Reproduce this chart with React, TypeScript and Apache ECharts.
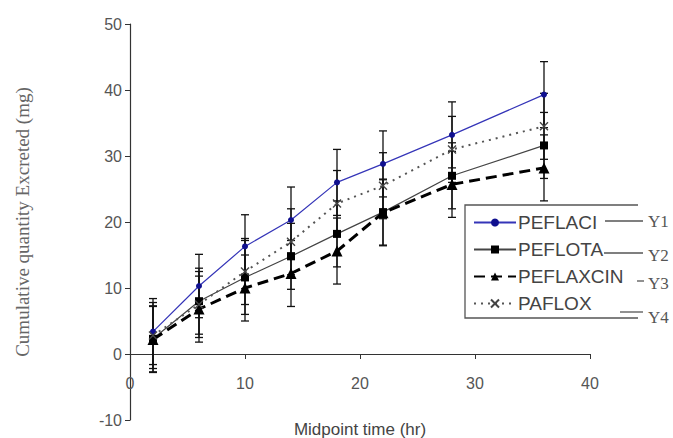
import React, { useEffect, useRef } from "react";
import * as echarts from "echarts";

const times = [2, 6, 10, 14, 18, 22, 28, 36];
const peflaci = [3.4, 10.3, 16.3, 20.3, 26.0, 28.8, 33.2, 39.3];
const peflota = [2.3, 8.0, 11.6, 14.8, 18.2, 21.5, 27.0, 31.6];
const peflaxcin = [2.2, 6.8, 10.0, 12.2, 15.6, 21.4, 25.7, 28.2];
const paflox = [2.8, 7.5, 12.5, 17.0, 22.8, 25.5, 31.0, 34.5];
const peflaciSd = [5, 4.8, 4.8, 5, 5, 5, 5, 5];
const peflotaSd = [5, 5, 5.6, 5, 5, 5, 5, 5];
const peflaxcinSd = [5, 5, 5, 5, 5, 5, 5, 5];
const pafloxSd = [5, 5, 5, 5, 5, 5, 5, 5];
const yTicks = [-10, 0, 10, 20, 30, 40, 50];
const xTicks = [0, 10, 20, 30, 40];

const pairs = (ys: number[]) => times.map((t, i) => [t, ys[i]]);
const bars = (ys: number[], sd: number[]) =>
  times.map((t, i) => [t, ys[i] - sd[i], ys[i] + sd[i]]);

const renderErr = (params: any, api: any) => {
  const x = api.value(0);
  const lo = api.coord([x, api.value(1)]);
  const hi = api.coord([x, api.value(2)]);
  const st = { stroke: "#111", lineWidth: 1.3 };
  const w = 4;
  return {
    type: "group",
    children: [
      { type: "line", shape: { x1: hi[0], y1: hi[1], x2: lo[0], y2: lo[1] }, style: st },
      { type: "line", shape: { x1: hi[0] - w, y1: hi[1], x2: hi[0] + w, y2: hi[1] }, style: st },
      { type: "line", shape: { x1: lo[0] - w, y1: lo[1], x2: lo[0] + w, y2: lo[1] }, style: st },
    ],
  };
};

const errSeries = (name: string, ys: number[], sd: number[]) => ({
  type: "custom",
  name,
  renderItem: renderErr,
  data: bars(ys, sd),
  encode: { x: 0, y: [1, 2] },
  z: 1,
  silent: true,
});

export default function App() {
  const ref = useRef<HTMLDivElement>(null);
  useEffect(() => {
    if (!ref.current) return;
    const chart = echarts.init(ref.current, null, { renderer: "svg" });
    const sans = "Liberation Sans, Arial, sans-serif";
    const serif = "Liberation Serif, Times New Roman, serif";
    chart.setOption({
      animation: false,
      backgroundColor: "#ffffff",
      grid: { left: 130, right: 83, top: 24, bottom: 18, outerBoundsMode: "none", containLabel: false },
      xAxis: {
        type: "value",
        min: 0,
        max: 40,
        interval: 10,
        position: "bottom",
        offset: -66,
        name: "Midpoint time (hr)",
        nameLocation: "middle",
        nameGap: 67,
        nameTextStyle: { fontFamily: sans, fontSize: 17, color: "#444" },
        axisLine: { onZero: false, lineStyle: { color: "#333", width: 1.2 } },
        axisTick: { show: true, length: 5, lineStyle: { color: "#333" } },
        axisLabel: {
          margin: 21,
          fontFamily: sans,
          fontSize: 16,
          color: "#555",
          formatter: (v: number) => (xTicks.includes(v) ? String(v) : ""),
        },
        splitLine: { show: false },
      },
      yAxis: {
        type: "value",
        min: -10,
        max: 50,
        interval: 10,
        name: "Cumulative quantity Excreted (mg)",
        nameLocation: "middle",
        nameGap: 98,
        nameTextStyle: { fontFamily: serif, fontSize: 19, color: "#666" },
        axisLine: { show: true, lineStyle: { color: "#333", width: 1.2 } },
        axisTick: { show: true, length: 5, lineStyle: { color: "#333" } },
        axisLabel: {
          margin: 8,
          fontFamily: sans,
          fontSize: 16,
          color: "#555",
          formatter: (v: number) => (yTicks.includes(v) ? String(v) : ""),
        },
        splitLine: { show: false },
      },
      legend: {
        data: ["PEFLACI", "PEFLOTA", "PEFLAXCIN", "PAFLOX"],
        orient: "vertical",
        left: 473,
        top: 213,
        itemWidth: 42,
        itemHeight: 10,
        itemGap: 8,
        padding: 0,
        textStyle: { fontFamily: sans, fontSize: 19, color: "#444", padding: [0, 0, 0, -3] },
      },
      graphic: [
        {
          type: "polyline",
          shape: { points: [[638, 205], [465, 205], [465, 318], [638, 318]] },
          style: { stroke: "#555", lineWidth: 1.3, fill: "none" },
          z: 10,
        },
        { type: "line", shape: { x1: 605, y1: 221, x2: 643, y2: 221 }, style: { stroke: "#555", lineWidth: 1.3 }, z: 10 },
        { type: "line", shape: { x1: 604, y1: 253, x2: 643, y2: 253 }, style: { stroke: "#555", lineWidth: 1.3 }, z: 10 },
        { type: "line", shape: { x1: 637, y1: 281, x2: 644, y2: 281 }, style: { stroke: "#555", lineWidth: 1.3 }, z: 10 },
        { type: "line", shape: { x1: 620, y1: 312, x2: 643, y2: 312 }, style: { stroke: "#555", lineWidth: 1.3 }, z: 10 },
        { type: "text", left: 648, top: 213, style: { text: "Y1", fontFamily: serif, fontSize: 17, fill: "#555" }, z: 10 },
        { type: "text", left: 648, top: 247, style: { text: "Y2", fontFamily: serif, fontSize: 17, fill: "#555" }, z: 10 },
        { type: "text", left: 648, top: 275, style: { text: "Y3", fontFamily: serif, fontSize: 17, fill: "#555" }, z: 10 },
        { type: "text", left: 648, top: 309, style: { text: "Y4", fontFamily: serif, fontSize: 17, fill: "#555" }, z: 10 },
      ],
      series: [
        errSeries("err1", peflaci, peflaciSd),
        errSeries("err2", peflota, peflotaSd),
        errSeries("err3", peflaxcin, peflaxcinSd),
        errSeries("err4", paflox, pafloxSd),
        {
          name: "PEFLACI",
          type: "line",
          data: pairs(peflaci),
          symbol: "circle",
          symbolSize: 6,
          showSymbol: true,
          lineStyle: { color: "#3535b8", width: 1.2 },
          itemStyle: { color: "#10108f" },
          z: 3,
        },
        {
          name: "PEFLOTA",
          type: "line",
          data: pairs(peflota),
          symbol: "rect",
          symbolSize: 8,
          lineStyle: { color: "#444", width: 1.2 },
          itemStyle: { color: "#000" },
          z: 3,
        },
        {
          name: "PEFLAXCIN",
          type: "line",
          data: pairs(peflaxcin),
          symbol: "triangle",
          symbolSize: 11,
          lineStyle: { color: "#000", width: 3, type: [11, 6] },
          itemStyle: { color: "#000" },
          z: 3,
        },
        {
          name: "PAFLOX",
          type: "line",
          data: pairs(paflox),
          symbol: "path://M0,0L10,10M10,0L0,10",
          symbolSize: 8,
          lineStyle: { color: "#555", width: 2, type: [2, 5] },
          itemStyle: { color: "transparent", borderColor: "#444", borderWidth: 1.4 },
          z: 3,
        },
      ],
    });
    return () => chart.dispose();
  }, []);
  return (
    <div
      ref={ref}
      style={{ position: "fixed", left: 0, top: 0, width: 673, height: 438, background: "#fff" }}
    />
  );
}
